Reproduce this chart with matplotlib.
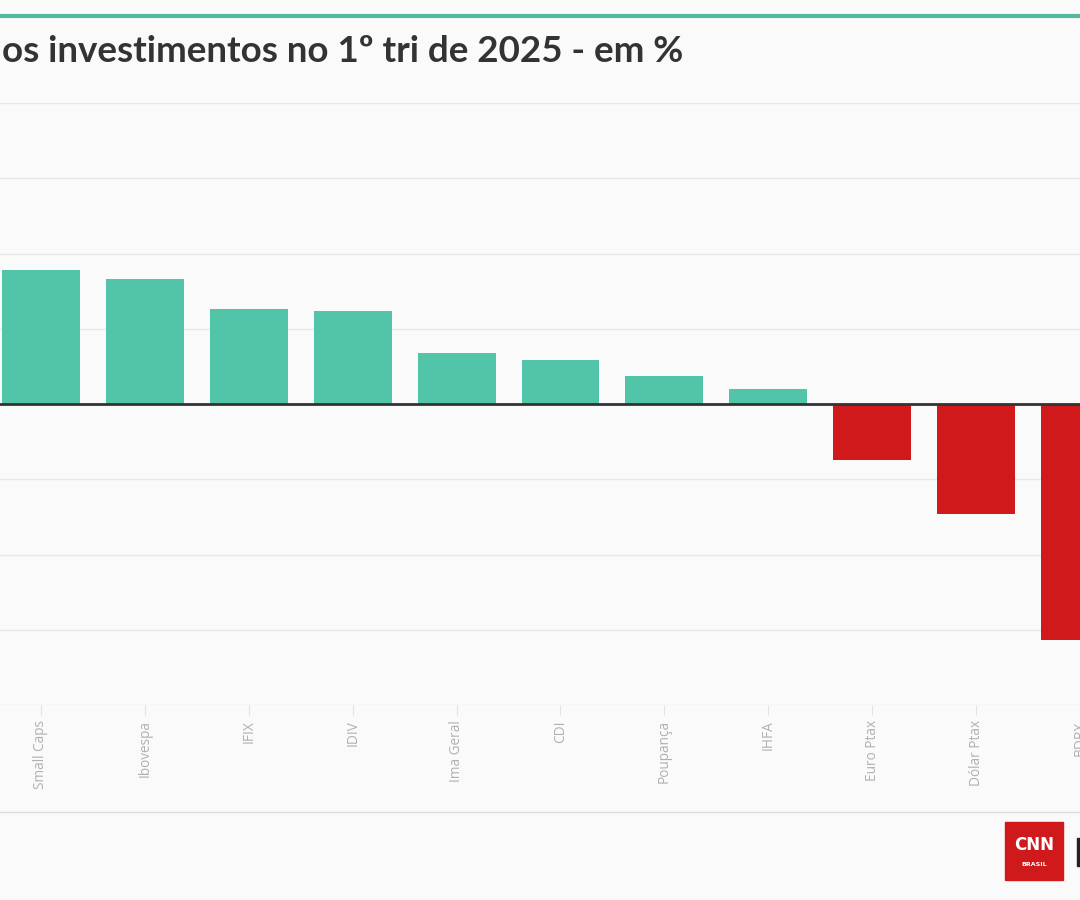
import matplotlib.pyplot as plt
from matplotlib.patches import Rectangle
from matplotlib.lines import Line2D

# dados (rentabilidade no 1º tri de 2025, em %)
categorias = ['Small Caps', 'Ibovespa', 'IFIX', 'IDIV', 'Ima Geral', 'CDI',
              'Poupança', 'IHFA', 'Euro Ptax', 'Dólar Ptax', 'BDRX']
valores = [8.9, 8.3, 6.3, 6.15, 3.4, 2.95, 1.85, 1.0, -3.7, -7.3, -15.7]
yticks = [-20, -15, -10, -5, 0, 5, 10, 15, 20]

titulo = 'os investimentos no 1º tri de 2025 - em %'

bg = '#fafafa'
verde = '#52c4a8'
vermelho = '#d0191a'

W, H = 1080, 900
fig = plt.figure(figsize=(W / 100, H / 100), dpi=100, facecolor=bg)

# eixo posicionado para reproduzir o recorte
top_px, bot_px = 103, 705
ax = fig.add_axes([0, 1 - bot_px / H, 1, (bot_px - top_px) / H])
ax.set_facecolor(bg)

x = list(range(len(categorias)))
cores = [verde if v >= 0 else vermelho for v in valores]
ax.bar(x, valores, width=0.75, color=cores, zorder=2)

ax.set_xlim(-41 / 104, (W - 41) / 104)
ax.set_ylim(-20, 20)
ax.set_yticks(yticks)
ax.set_yticklabels([])
ax.tick_params(axis='y', length=0)
ax.grid(axis='y', color='#e8e8e8', linewidth=1, zorder=0)
ax.axhline(0, color='#333333', linewidth=2, zorder=3)
for s in ax.spines.values():
    s.set_visible(False)

ax.set_xticks(x)
ax.set_xticklabels(categorias, rotation=90, family='Open Sans', fontsize=9.8,
                   color='#b0b0b0', va='top')
ax.tick_params(axis='x', length=7, color='#e2e2e2', pad=4)

# linha superior e título
fig.add_artist(Line2D([0, 1], [1 - 16 / H, 1 - 16 / H], color='#52b89e', linewidth=3))
fig.text(2 / W, 1 - 52 / H, titulo, family='Lato', fontweight='bold', fontsize=26.5,
         color='#333333', va='center', ha='left')

# rodapé
fig.add_artist(Line2D([0, 1], [1 - 812 / H, 1 - 812 / H], color='#dcdcdc', linewidth=1))
fig.add_artist(Rectangle((1005 / W, 1 - 880 / H), 58 / W, 58 / H,
                         transform=fig.transFigure, color='#d0191a'))
fig.text(1034 / W, 1 - 845 / H, 'CNN', family='DejaVu Sans', fontweight='bold',
         fontsize=12, color='white', ha='center', va='center')
fig.text(1034 / W, 1 - 864 / H, 'BRASIL', family='DejaVu Sans', fontweight='bold',
         fontsize=4.5, color='white', ha='center', va='center')
fig.add_artist(Rectangle((1077 / W, 1 - 866 / H), 5 / W, 28 / H,
                         transform=fig.transFigure, color='#222222'))

fig.savefig('out.png', dpi=100, facecolor=bg)
